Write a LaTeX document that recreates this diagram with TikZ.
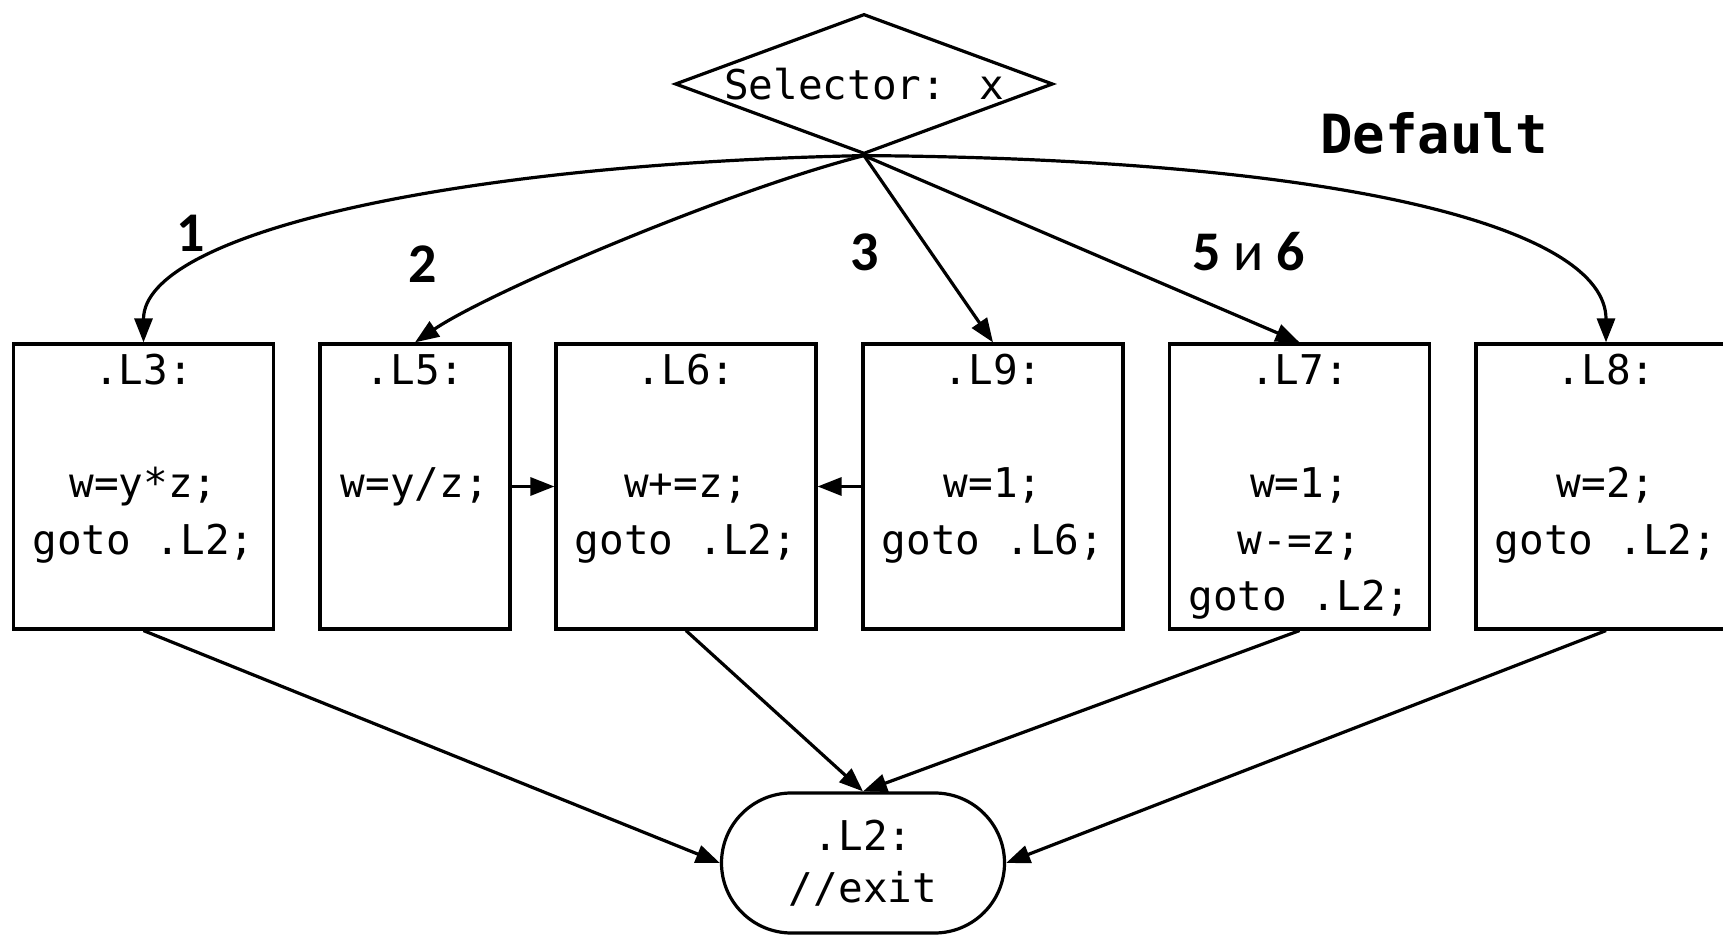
\documentclass[tikz,border=0pt]{standalone}
\usepackage{fontspec}
\newfontfamily\monof{DejaVu Sans Mono}
\newfontfamily\labf{Carlito}
\usetikzlibrary{shapes.geometric,shapes.misc,arrows.meta}
\begin{document}
\begin{tikzpicture}[x=1pt,y=1pt,
  blk/.style={draw, line width=3.2pt, rectangle, minimum width=260pt, minimum height=285pt,
    inner sep=0pt, align=center, font=\monof\fontsize{41}{56.5}\selectfont},
  arr/.style={line width=3.2pt, -{Triangle[length=24pt,width=18pt]}},
  lab/.style={font=\labf\fontsize{56}{60}\selectfont}
]
\useasboundingbox (0,0) rectangle (1723,934);
\node[diamond, draw, line width=3.2pt, minimum width=378pt, minimum height=140pt, aspect=2.7,
  inner sep=0pt, font=\monof\fontsize{41}{50}\selectfont] (sel) at (864,850) {Selector: x};

\node[blk] (L3) at (143.5,447.5) {\strut .L3:\\\strut\\\strut w=y*z;\\\strut goto .L2;\\\strut};
\node[blk, minimum width=190pt] (L5) at (415,447.5) {\strut .L5:\\\strut\\\strut w=y/z;\\\strut\\\strut};
\node[blk] (L6) at (686,447.5) {\strut .L6:\\\strut\\\strut w+=z;\\\strut goto .L2;\\\strut};
\node[blk] (L9) at (993,447.5) {\strut .L9:\\\strut\\\strut w=1;\\\strut goto .L6;\\\strut};
\node[blk] (L7) at (1299.5,447.5) {\strut .L7:\\\strut\\\strut w=1;\\\strut w-=z;\\\strut goto .L2;};
\node[blk] (L8) at (1606,447.5) {\strut .L8:\\\strut\\\strut w=2;\\\strut goto .L2;\\\strut};

\node[rounded rectangle, draw, line width=3.2pt, minimum width=283pt, minimum height=140pt,
  inner sep=0pt, align=center, font=\monof\fontsize{41}{52}\selectfont] (L2) at (863,71) {.L2:\\//exit};

\draw[arr] (sel.south) .. controls (450,770) and (143.5,700) .. (L3.north);
\draw[arr] (sel.south) .. controls (729,744) and (489,642) .. (L5.north);
\draw[arr] (sel.south) -- (L9.north);
\draw[arr] (sel.south) -- (L7.north);
\draw[arr] (sel.south) .. controls (1350,775) and (1606,705) .. (L8.north);
\draw[arr] (L5.east) -- (L6.west);
\draw[arr] (L9.west) -- (L6.east);
\draw[arr] (L3.south) -- (L2.west);
\draw[arr] (L6.south) -- (L2.north);
\draw[arr] (L7.south) -- (L2.north);
\draw[arr] (L8.south) -- (L2.east);

\node[lab] (n1) at (191,701) {\textbf{1}};
\node[lab] (n2) at (423,670) {\textbf{2}};
\node[lab] (n3) at (865,682) {\textbf{3}};
\node[lab] (n56) at (1249,682) {\textbf{5} и \textbf{6}};
\node[font=\monof\bfseries\fontsize{54}{60}\selectfont] (def) at (1434,801) {Default};
\end{tikzpicture}
\end{document}
